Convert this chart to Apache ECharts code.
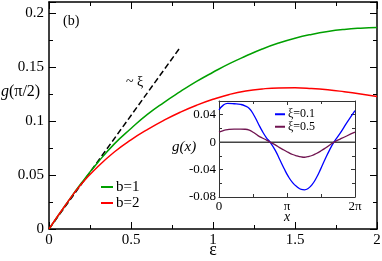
<!DOCTYPE html>
<html>
<head>
<meta charset="utf-8">
<script src="https://cdn.jsdelivr.net/npm/echarts@6/dist/echarts.min.js"></script>
<style>html,body{margin:0;padding:0;background:#fff}#c{width:382px;height:261px}</style>
</head>
<body>
<div id="c"></div>
<script>
// Main panel: g(pi/2) vs epsilon
const epsX = [0,0.1,0.2,0.3,0.4,0.5,0.6,0.7,0.8,0.9,1.0,1.1,1.2,1.3,1.4,1.5,1.6,1.7,1.8,1.9,2.0];
const gB1  = [0,0.022,0.043,0.062,0.079,0.093,0.106,0.117,0.127,0.1365,0.145,0.153,0.160,0.1665,0.172,0.1765,0.180,0.1827,0.1846,0.1858,0.1865];
const gB2  = [0,0.022,0.042,0.058,0.0715,0.0825,0.092,0.1005,0.108,0.1145,0.120,0.1245,0.1277,0.1296,0.1305,0.1306,0.130,0.1288,0.127,0.1249,0.1225];
const dashX = [0, 0.8];
const dashY = [0, 0.168];
const mainXTicks = [0, 0.5, 1, 1.5, 2];
const mainYTicks = [0, 0.05, 0.1, 0.15, 0.2];

// Inset: g(x) vs x
const insX = [0,0.2,0.4,0.7,1.0,1.2,1.4,1.6,1.8,2.0,2.2,2.36,2.6,2.8,3.0,3.2,3.4,3.6,3.8,3.95,4.1,4.3,4.5,4.7,4.9,5.1,5.31,5.6,5.9,6.2832];
const gXi01 = [0.047,0.054,0.0565,0.056,0.055,0.053,0.049,0.040,0.028,0.016,0.006,0,-0.012,-0.025,-0.038,-0.050,-0.059,-0.065,-0.069,-0.0695,-0.068,-0.062,-0.052,-0.039,-0.025,-0.012,0,0.013,0.028,0.046];
const gXi05 = [0.0145,0.0168,0.0182,0.019,0.019,0.0188,0.0175,0.014,0.0095,0.006,0.003,0,-0.004,-0.008,-0.0115,-0.015,-0.018,-0.020,-0.0215,-0.022,-0.0212,-0.0195,-0.0165,-0.013,-0.009,-0.0045,0,0.0045,0.009,0.0145];
const insYTicks = [-0.08, -0.04, 0, 0.04];

const F = 'Liberation Serif';
const zip = (a, b) => a.map((v, i) => [v, b[i]]);
const near = (v, arr) => arr.some(t => Math.abs(t - v) < 1e-6);

function fmtMainY(v){ return near(v, mainYTicks) ? String(+v.toFixed(2)) : ''; }
function fmtMainX(v){ return near(v, mainXTicks) ? String(+v.toFixed(2)) : ''; }
function fmtInsY(v){ if(!near(v, insYTicks)) return ''; return Math.abs(v)<1e-9 ? '0' : v.toFixed(2); }
function fmtInsX(v){ if(Math.abs(v)<1e-6) return '0'; if(Math.abs(v-Math.PI)<1e-6) return 'π'; if(Math.abs(v-2*Math.PI)<1e-6) return '2π'; return ''; }

function ax(base){ return Object.assign({axisLine:{show:true, onZero:false, lineStyle:{color:'#000', width:1.5}}, splitLine:{show:false}, nameMoveOverlap:false}, base); }

const chart = echarts.init(document.getElementById('c'), null, {renderer:'canvas'});
chart.setOption({
  animation:false,
  backgroundColor:'#fff',
  grid:[
    {left:49, top:2, width:328, height:227, show:false, containLabel:false, outerBoundsMode:'none'},
    {left:219, top:101, width:136, height:96, show:true, backgroundColor:'#fff', borderWidth:0, containLabel:false, outerBoundsMode:'none'}
  ],
  xAxis:[
    ax({gridIndex:0, type:'value', position:'bottom', min:0, max:2, interval:0.5,
      axisTick:{inside:true, length:7, lineStyle:{color:'#000', width:1}},
      minorTick:{show:true, splitNumber:2, length:4, lineStyle:{color:'#000', width:1}},
      axisLabel:{formatter:fmtMainX, fontFamily:F, fontSize:15, color:'#000', margin:4},
      name:'ε', nameLocation:'middle', nameGap:12, nameTextStyle:{fontFamily:F, fontSize:18, color:'#000'}}),
    ax({gridIndex:0, type:'value', position:'top', min:0, max:2, interval:0.5,
      axisTick:{inside:true, length:7, lineStyle:{color:'#000', width:1}},
      minorTick:{show:true, splitNumber:2, length:4, lineStyle:{color:'#000', width:1}},
      axisLabel:{show:false}}),
    ax({gridIndex:1, type:'value', position:'bottom', min:0, max:2*Math.PI, interval:Math.PI,
      axisLine:{show:true, onZero:false, lineStyle:{color:'#333', width:1}},
      axisTick:{inside:true, length:4, lineStyle:{color:'#333', width:1}},
      minorTick:{show:true, splitNumber:2, length:3, lineStyle:{color:'#333', width:1}},
      axisLabel:{formatter:fmtInsX, fontFamily:F, fontSize:13, color:'#000', margin:3},
      name:'x', nameLocation:'middle', nameGap:13, nameTextStyle:{fontFamily:F, fontSize:14, fontStyle:'italic', color:'#000'}}),
    ax({gridIndex:1, type:'value', position:'top', min:0, max:2*Math.PI, interval:Math.PI,
      axisLine:{show:true, onZero:false, lineStyle:{color:'#333', width:1}},
      axisTick:{inside:true, length:4, lineStyle:{color:'#333', width:1}},
      minorTick:{show:true, splitNumber:2, length:3, lineStyle:{color:'#333', width:1}},
      axisLabel:{show:false}})
  ],
  yAxis:[
    ax({gridIndex:0, type:'value', position:'left', min:0, max:0.21, interval:0.05,
      axisTick:{inside:true, length:7, lineStyle:{color:'#000', width:1}},
      minorTick:{show:true, splitNumber:2, length:4, lineStyle:{color:'#000', width:1}},
      axisLabel:{formatter:fmtMainY, fontFamily:F, fontSize:15, color:'#000', margin:5}}),
    ax({gridIndex:0, type:'value', position:'right', min:0, max:0.21, interval:0.05,
      axisTick:{inside:true, length:7, lineStyle:{color:'#000', width:1}},
      minorTick:{show:true, splitNumber:2, length:4, lineStyle:{color:'#000', width:1}},
      axisLabel:{show:false}}),
    ax({gridIndex:1, type:'value', position:'left', min:-0.08, max:0.06, interval:0.04,
      axisLine:{show:true, onZero:false, lineStyle:{color:'#333', width:1}},
      axisTick:{inside:true, length:4, lineStyle:{color:'#333', width:1}},
      minorTick:{show:true, splitNumber:2, length:3, lineStyle:{color:'#333', width:1}},
      axisLabel:{formatter:fmtInsY, fontFamily:F, fontSize:13, color:'#000', margin:3}}),
    ax({gridIndex:1, type:'value', position:'right', min:-0.08, max:0.06, interval:0.04,
      axisLine:{show:true, onZero:false, lineStyle:{color:'#333', width:1}},
      axisTick:{inside:true, length:4, lineStyle:{color:'#333', width:1}},
      minorTick:{show:true, splitNumber:2, length:3, lineStyle:{color:'#333', width:1}},
      axisLabel:{show:false}})
  ],
  legend:[
    {data:['b=1','b=2'], orient:'vertical', left:101, top:179, padding:0, itemGap:0,
     icon:'rect', itemWidth:12, itemHeight:2,
     textStyle:{fontFamily:F, fontSize:15, color:'#000', lineHeight:16, padding:[0,0,0,-2]}},
    {data:['ξ=0.1','ξ=0.5'], orient:'vertical', left:275, top:108, padding:0, itemGap:0,
     icon:'rect', itemWidth:10, itemHeight:2,
     textStyle:{fontFamily:F, fontSize:12, color:'#000', lineHeight:12.5, padding:[0,0,0,-2]}}
  ],
  graphic:[
    {type:'text', left:63, top:14, style:{text:'(b)', font:'14px "Liberation Serif"', fill:'#000'}},
    {type:'text', left:126, top:75, style:{text:'~ ξ', font:'14px "Liberation Serif"', fill:'#000'}},
    {type:'text', left:1, top:84, style:{text:'{i|g}(π/2)', font:'16px "Liberation Serif"', fill:'#000',
      rich:{i:{fontStyle:'italic', fontFamily:F, fontSize:16}}}},
    {type:'text', left:172, top:140, style:{text:'g(x)', font:'italic 15px "Liberation Serif"', fill:'#000'}}
  ],
  series:[
    {name:'~xi', type:'line', xAxisIndex:0, yAxisIndex:0, data:zip(dashX, dashY), showSymbol:false, silent:true,
     lineStyle:{color:'#000', width:1.5, type:[6,3]}},
    {name:'b=1', type:'line', xAxisIndex:0, yAxisIndex:0, data:zip(epsX, gB1), smooth:true, showSymbol:false,
     color:'#00a000', lineStyle:{color:'#00a000', width:1.5}},
    {name:'b=2', type:'line', xAxisIndex:0, yAxisIndex:0, data:zip(epsX, gB2), smooth:true, showSymbol:false,
     color:'#ff0000', lineStyle:{color:'#ff0000', width:1.5}},
    {name:'zero', type:'line', xAxisIndex:2, yAxisIndex:2, data:[[0,0],[2*Math.PI,0]], showSymbol:false, silent:true,
     lineStyle:{color:'#444', width:1.5}},
    {name:'ξ=0.1', type:'line', xAxisIndex:2, yAxisIndex:2, data:zip(insX, gXi01), smooth:true, showSymbol:false,
     color:'#0000ff', lineStyle:{color:'#0000ff', width:1.3}},
    {name:'ξ=0.5', type:'line', xAxisIndex:2, yAxisIndex:2, data:zip(insX, gXi05), smooth:true, showSymbol:false,
     color:'#701450', lineStyle:{color:'#701450', width:1.3}}
  ]
});
</script>
</body>
</html>
